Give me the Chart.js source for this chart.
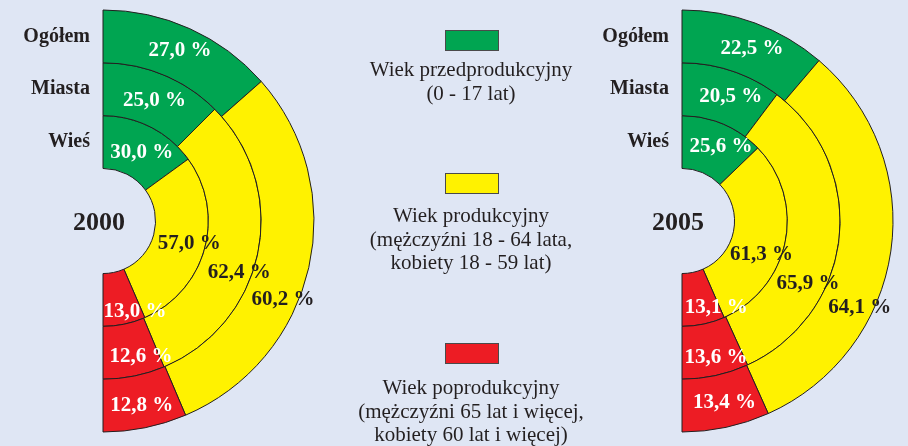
<!DOCTYPE html>
<html lang="pl">
<head>
<meta charset="UTF-8">
<title>Ludność według ekonomicznych grup wieku</title>
<script src="https://cdn.jsdelivr.net/npm/chart.js"></script>
<style>
  body {
    margin: 0;
    width: 908px;
    height: 446px;
    overflow: hidden;
    position: relative;
    background: #dfe6f4;
    font-family: "Liberation Serif", "Times New Roman", serif;
    color: #231f20;
  }
  canvas { position: absolute; top: 0; }
  #c2000 { left: 0; }
  #c2005 { left: 579px; }
  .swatch {
    position: absolute;
    left: 445px;
    width: 52px;
    height: 19px;
    border: 1px solid #4a4a4a;
  }
  .legend {
    position: absolute;
    left: 320px;
    width: 302px;
    text-align: center;
    font-size: 21px;
    line-height: 23.5px;
    white-space: nowrap;
  }
</style>
</head>
<body>
  <canvas id="c2000" width="330" height="446"></canvas>
  <canvas id="c2005" width="330" height="446"></canvas>

  <div class="swatch" style="top:30px;background:#00a551"></div>
  <div class="legend" style="top:58px">Wiek przedprodukcyjny<br>(0 - 17 lat)</div>

  <div class="swatch" style="top:173px;background:#fff200"></div>
  <div class="legend" style="top:204px">Wiek produkcyjny<br>(mężczyźni 18 - 64 lata,<br>kobiety 18 - 59 lat)</div>

  <div class="swatch" style="top:343px;background:#ed1c24"></div>
  <div class="legend" style="top:376px">Wiek poprodukcyjny<br>(mężczyźni 65 lat i więcej,<br>kobiety 60 lat i więcej)</div>

<script>
  // kolejnosc: przedprodukcyjny, produkcyjny, poprodukcyjny
  const rings = ["Ogółem", "Miasta", "Wieś"];
  const ogolem2000 = [27.0, 60.2, 12.8];
  const miasta2000 = [25.0, 62.4, 12.6];
  const wies2000 = [30.0, 57.0, 13.0];
  const ogolem2005 = [22.5, 64.1, 13.4];
  const miasta2005 = [20.5, 65.9, 13.6];
  const wies2005 = [25.6, 61.3, 13.1];

  const colors = ["#00a551", "#fff200", "#ed1c24"];
  const ink = "#231f20";

  const fmt = v => v.toFixed(1).replace(".", ",") + " %";

  // draws the percentages, ring names and the year
  const ringLabels = {
    id: "ringLabels",
    afterDatasetsDraw(chart, args, opts) {
      const ctx = chart.ctx;
      ctx.save();
      ctx.textBaseline = "middle";
      chart.data.datasets.forEach((ds, d) => {
        const meta = chart.getDatasetMeta(d);
        ctx.textAlign = "center";
        ctx.font = 'bold 21px "Liberation Serif"';
        meta.data.forEach((arc, i) => {
          const p = arc.getCenterPoint();
          const [dx, dy] = opts.nudge[d][i];
          ctx.fillStyle = i === 1 ? ink : "#ffffff";
          ctx.fillText(fmt(ds.data[i]), p.x + dx, p.y + dy);
        });
        const a = meta.data[0];
        const mid = (a.innerRadius + a.outerRadius) / 2;
        ctx.textAlign = "right";
        ctx.font = 'bold 20px "Liberation Serif"';
        ctx.fillStyle = ink;
        ctx.fillText(ds.label, a.x - 13, a.y - mid);
      });
      const c = chart.getDatasetMeta(0).data[0];
      ctx.textAlign = "center";
      ctx.font = 'bold 26px "Liberation Serif"';
      ctx.fillStyle = ink;
      ctx.fillText(opts.year, c.x - 4, c.y + 2);
      ctx.restore();
    }
  };

  function halfRings(id, year, series, nudge) {
    new Chart(document.getElementById(id), {
      type: "doughnut",
      data: {
        labels: ["Wiek przedprodukcyjny", "Wiek produkcyjny", "Wiek poprodukcyjny"],
        datasets: series.map((vals, k) => ({
          label: rings[k],
          data: vals,
          backgroundColor: colors,
          borderColor: ink,
          borderWidth: 1,
          hoverOffset: 0,
          offset: 0
        }))
      },
      options: {
        responsive: false,
        animation: false,
        events: [],
        rotation: 0,
        circumference: 180,
        cutout: "24.9%",
        radius: 211,
        layout: { padding: { left: 103, top: 10, right: 16, bottom: 14 } },
        plugins: {
          legend: { display: false },
          tooltip: { enabled: false },
          ringLabels: { year: year, nudge: nudge }
        }
      },
      plugins: [ringLabels]
    });
  }

  halfRings("c2000", "2000", [ogolem2000, miasta2000, wies2000],
    [[[1, -2], [0, 38], [2, 4]], [[1, 1], [7, 26], [12, 6]], [[3, 2], [10, 2], [16, 13]]]);
  halfRings("c2005", "2005", [ogolem2005, miasta2005, wies2005],
    [[[6, 1], [-5, 60], [4, 1]], [[7, 1], [-5, 48], [6, 8]], [[8, -2], [2, 18], [18, 9]]]);
</script>
</body>
</html>
